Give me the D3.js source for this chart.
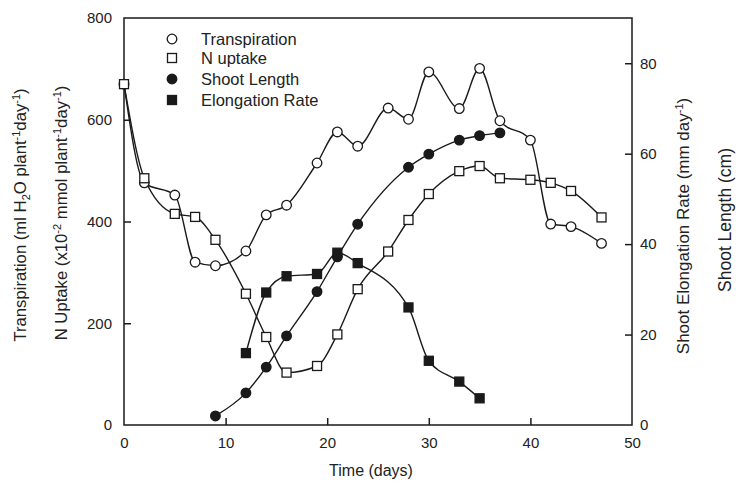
<!DOCTYPE html>
<html><head><meta charset="utf-8">
<script src="https://cdn.jsdelivr.net/npm/d3@7"></script>
<style>body{margin:0;background:#fff}svg text{font-family:"Liberation Sans",Arial,sans-serif;fill:#222}</style>
</head><body><svg id="c" width="736" height="486"></svg>
<script>
const transDays = [0,2,5,7,9,12,14,16,19,21,23,26,28,30,33,35,37,40,42,44,47];
const transVals = [670,476,452,320,313,342,413,432,515,576,548,623,601,694,622,701,598,560,395,390,357];
const nDays = [0,2,5,7,9,12,14,16,19,21,23,26,28,30,33,35,37,40,42,44,47];
const nVals = [670,485,415,409,364,258,173,103,116,178,267,341,403,454,499,509,485,482,476,460,408];
const lenDays = [9,12,14,16,19,21,23,28,30,33,35,37];
const lenVals = [2.0,7.1,12.8,19.7,29.5,37.2,44.4,57.0,59.9,63.0,64.0,64.6];
const rateDays = [12,14,16,19,21,23,28,30,33,35];
const rateVals = [15.9,29.3,32.9,33.4,38.1,35.8,26.0,14.2,9.6,5.9];
const xTicks = [0,10,20,30,40,50];
const leftTicks = [0,200,400,600,800];
const rightTicks = [0,20,40,60,80];
const legendItems = ["Transpiration","N uptake","Shoot Length","Elongation Rate"];

const svg = d3.select("#c");
const L=124,R=632,T=18,B=425;
const x = d3.scaleLinear().domain([0,50]).range([L,R]);
const yL = d3.scaleLinear().domain([0,800]).range([B,T]);
const yR = d3.scaleLinear().domain([0,90]).range([B,T]);
const col="#1a1a1a";

svg.append("rect").attr("x",L).attr("y",T).attr("width",R-L).attr("height",B-T)
  .attr("fill","none").attr("stroke",col).attr("stroke-width",1.5);

const ax1 = svg.append("g").attr("transform",`translate(0,${B})`)
  .call(d3.axisBottom(x).tickValues(xTicks).tickSizeInner(-7).tickSizeOuter(0).tickPadding(12));
const ax2 = svg.append("g").attr("transform",`translate(${L},0)`)
  .call(d3.axisLeft(yL).tickValues(leftTicks).tickSizeInner(-7).tickSizeOuter(0).tickPadding(12));
const ax3 = svg.append("g").attr("transform",`translate(${R},0)`)
  .call(d3.axisRight(yR).tickValues(rightTicks).tickSizeInner(-7).tickSizeOuter(0).tickPadding(8));
[ax1,ax2,ax3].forEach(a=>{
  a.select(".domain").remove();
  a.selectAll("line").attr("stroke",col).attr("stroke-width",1.5);
  a.selectAll("text").attr("font-size",15).attr("fill","#222")
   .style("font-family","'Liberation Sans',Arial,sans-serif");
});
ax1.selectAll(".tick line").filter(d=>d===0||d===50).remove();
ax2.selectAll(".tick line").filter(d=>d===0||d===800).remove();
ax3.selectAll(".tick line").filter(d=>d===0).remove();

const line = d3.line().curve(d3.curveMonotoneX);
function series(days, vals, ys){ return days.map((d,i)=>[x(d), ys(vals[i])]); }
const sT = series(transDays,transVals,yL), sN = series(nDays,nVals,yL),
      sL = series(lenDays,lenVals,yR), sR = series(rateDays,rateVals,yR);
[sT,sN,sL,sR].forEach(s=>svg.append("path").attr("d",line(s)).attr("fill","none")
  .attr("stroke",col).attr("stroke-width",1.4));

function circles(s, fill){ svg.append("g").selectAll("circle").data(s).join("circle")
  .attr("cx",d=>d[0]).attr("cy",d=>d[1]).attr("r",4.8)
  .attr("fill",fill).attr("stroke",col).attr("stroke-width",1.3); }
function squares(s, fill){ const a=9; svg.append("g").selectAll("rect").data(s).join("rect")
  .attr("x",d=>d[0]-a/2).attr("y",d=>d[1]-a/2).attr("width",a).attr("height",a)
  .attr("fill",fill).attr("stroke",col).attr("stroke-width",1.3); }
circles(sT,"#fff"); squares(sN,"#fff"); circles(sL,col); squares(sR,col);

const lg = svg.append("g");
const ly = [39,58,79,100];
legendItems.forEach((t,i)=>{
  const cx=172, cy=ly[i];
  if(i===0||i===2) lg.append("circle").attr("cx",cx).attr("cy",cy).attr("r",4.8)
     .attr("fill",i===0?"#fff":col).attr("stroke",col).attr("stroke-width",1.3);
  else lg.append("rect").attr("x",cx-4.5).attr("y",cy-4.5).attr("width",9).attr("height",9)
     .attr("fill",i===1?"#fff":col).attr("stroke",col).attr("stroke-width",1.3);
  lg.append("text").attr("x",201).attr("y",cy+6).attr("font-size",16.5).text(t);
});

function vtitle(xp, yc, parts, fs){
  const t = svg.append("text").attr("transform",`translate(${xp},${yc}) rotate(-90)`)
    .attr("text-anchor","middle").attr("font-size",fs);
  parts.forEach(p=>{
    const ts=t.append("tspan").text(p[0]);
    if(p[1]==="sup") ts.attr("font-size",11).attr("baseline-shift","6");
    if(p[1]==="sub") ts.attr("font-size",11).attr("baseline-shift","-4");
  });
}
vtitle(26,215,[["Transpiration (ml H"],["2","sub"],["O plant"],["-1","sup"],["day"],["-1","sup"],[")"]],16.7);
vtitle(67,213,[["N Uptake (x10"],["-2","sup"],[" mmol plant"],["-1","sup"],["day"],["-1","sup"],[")"]],16.7);
vtitle(689,226,[["Shoot Elongation Rate (mm day"],["-1","sup"],[")"]],17);
vtitle(731,220,[["Shoot Length (cm)"]],17.5);
svg.append("text").attr("x",371).attr("y",476).attr("text-anchor","middle")
  .attr("font-size",16).text("Time (days)");
</script></body></html>
